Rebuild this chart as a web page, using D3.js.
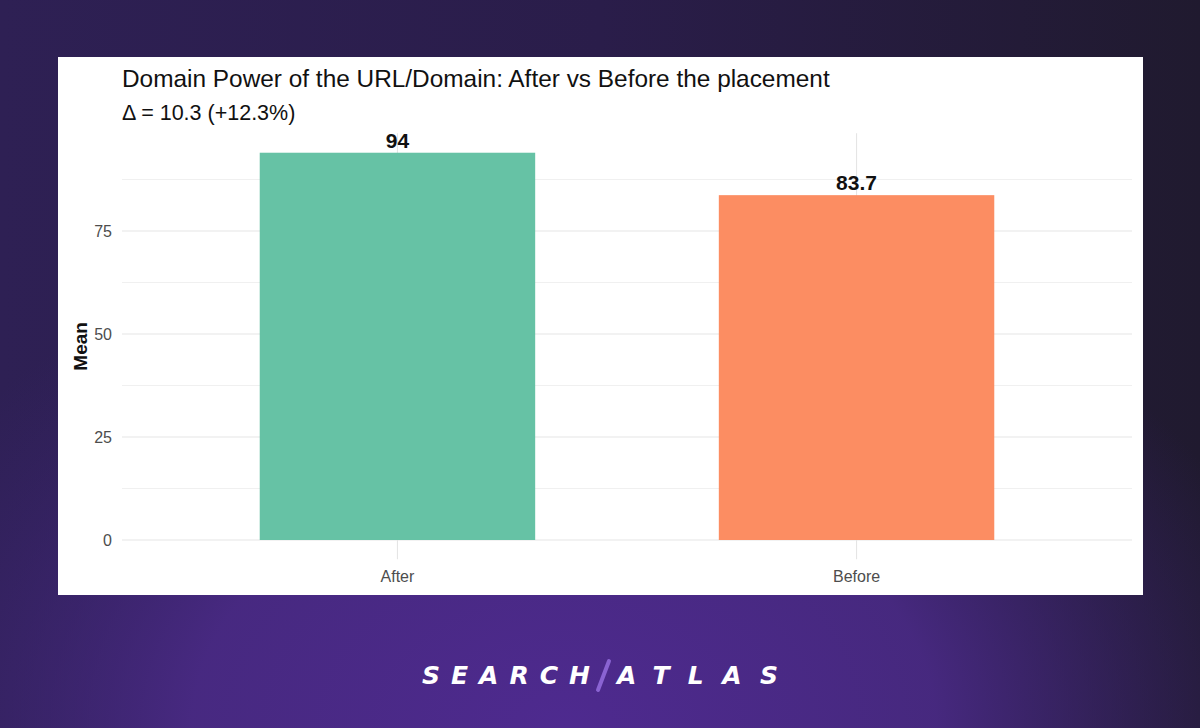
<!DOCTYPE html>
<html>
<head>
<meta charset="utf-8">
<script src="https://cdn.jsdelivr.net/npm/d3@7"></script>
<style>
  html, body { margin: 0; padding: 0; }
  body { width: 1200px; height: 728px; overflow: hidden; }
  svg { display: block; }
</style>
</head>
<body>
<svg id="chart" width="1200" height="728"></svg>
<script>
const categories = ["After", "Before"];
const means = [94, 83.7];
const valueLabels = ["94", "83.7"];
const barColors = ["#66c2a5", "#fc8d62"];
const yTicks = [0, 25, 50, 75];
const yMinor = [12.5, 37.5, 62.5, 87.5];
const titleText = "Domain Power of the URL/Domain: After vs Before the placement";
const subtitleText = "\u0394 = 10.3 (+12.3%)";
const yAxisTitle = "Mean";
const logoLeft = "SEARCH";
const logoRight = "ATLAS";

(function () {
const svg = d3.select("#chart");
const W = 1200, H = 728;
const FONT = "Liberation Sans, Arial, sans-serif";

// background
const defs = svg.append("defs");
const lg = defs.append("linearGradient").attr("id", "bgLin").attr("x1", "0").attr("y1", "0").attr("x2", "1").attr("y2", "0");
lg.append("stop").attr("offset", "0").attr("stop-color", "#2e2054");
lg.append("stop").attr("offset", "0.5").attr("stop-color", "#2a1d4a");
lg.append("stop").attr("offset", "1").attr("stop-color", "#201a2f");
svg.append("rect").attr("width", W).attr("height", H).attr("fill", "url(#bgLin)");
const rg = defs.append("radialGradient").attr("id", "bgRad")
  .attr("cx", "0.47").attr("cy", "1.0").attr("r", "0.62")
  .attr("gradientTransform", "translate(0.47,1) scale(1,1.15) translate(-0.47,-1)");
rg.append("stop").attr("offset", "0").attr("stop-color", "#4e2a8f").attr("stop-opacity", 1);
rg.append("stop").attr("offset", "0.5").attr("stop-color", "#4a2a86").attr("stop-opacity", 0.9);
rg.append("stop").attr("offset", "1").attr("stop-color", "#3a2370").attr("stop-opacity", 0);
svg.append("rect").attr("width", W).attr("height", H).attr("fill", "url(#bgRad)");

// white panel
svg.append("rect").attr("x", 58).attr("y", 57).attr("width", 1085).attr("height", 538).attr("fill", "#ffffff");

// plot area
const pL = 122, pR = 1132;
const y0px = 540, perUnit = 4.12;
const yDomain = [-0.05 * 94, 94 * 1.05];
const y = d3.scaleLinear().domain(yDomain)
  .range([y0px - yDomain[0] * perUnit, y0px - yDomain[1] * perUnit]);
const xPos = d3.scaleLinear().domain([0.4, 2.6]).range([pL, pR]);
const unit = xPos(2) - xPos(1);

const catCenter = c => xPos(categories.indexOf(c) + 1);
const pTop = y(yDomain[1]), pBottom = y(yDomain[0]);

const g = svg.append("g");
g.selectAll("line.minor").data(yMinor).join("line")
  .attr("x1", pL).attr("x2", pR).attr("y1", d => y(d)).attr("y2", d => y(d))
  .attr("stroke", "#f0f0f0").attr("stroke-width", 1);
g.selectAll("line.major").data(yTicks).join("line")
  .attr("x1", pL).attr("x2", pR).attr("y1", d => y(d)).attr("y2", d => y(d))
  .attr("stroke", "#e5e5e5").attr("stroke-width", 1.1);
g.selectAll("line.vg").data(categories).join("line")
  .attr("x1", d => catCenter(d)).attr("x2", d => catCenter(d))
  .attr("y1", pTop).attr("y2", pBottom)
  .attr("stroke", "#e5e5e5").attr("stroke-width", 1.1);

const barW = 0.6 * unit;
g.selectAll("rect.bar").data(means).join("rect")
  .attr("x", (d, i) => catCenter(categories[i]) - barW / 2)
  .attr("width", barW)
  .attr("y", d => y(d))
  .attr("height", d => y(0) - y(d))
  .attr("fill", (d, i) => barColors[i]);

g.selectAll("text.val").data(means).join("text")
  .attr("x", (d, i) => catCenter(categories[i]))
  .attr("y", d => y(d) - 5)
  .attr("text-anchor", "middle")
  .attr("font-family", FONT)
  .attr("font-weight", "bold").attr("font-size", 21).attr("fill", "#111")
  .text((d, i) => valueLabels[i]);

const yAxis = d3.axisLeft(y).tickValues(yTicks).tickSize(0).tickPadding(0);
const ya = svg.append("g").attr("transform", `translate(${pL - 10},0)`).call(yAxis);
ya.select(".domain").remove();
ya.selectAll("text").attr("font-family", FONT)
  .attr("font-size", 16).attr("fill", "#4d4d4d");

const xa = svg.append("g");
xa.selectAll("text").data(categories).join("text")
  .attr("x", d => catCenter(d)).attr("y", 582)
  .attr("text-anchor", "middle")
  .attr("font-family", FONT)
  .attr("font-size", 16).attr("fill", "#4d4d4d").text(d => d);

svg.append("text")
  .attr("transform", `translate(87,${(pTop + pBottom) / 2}) rotate(-90)`)
  .attr("text-anchor", "middle")
  .attr("font-family", FONT).attr("font-weight", "bold")
  .attr("font-size", 19).attr("fill", "#111").text(yAxisTitle);

svg.append("text").attr("x", 122).attr("y", 87)
  .attr("font-family", FONT)
  .attr("font-size", 24.4).attr("fill", "#111").text(titleText);
svg.append("text").attr("x", 122).attr("y", 120)
  .attr("font-family", FONT)
  .attr("font-size", 21.5).attr("fill", "#111").text(subtitleText);

const logo = svg.append("g");
logo.append("text").attr("x", 422).attr("y", 684)
  .attr("font-family", "DejaVu Sans, sans-serif").attr("font-weight", "bold")
  .attr("font-style", "italic").attr("font-size", 25)
  .attr("textLength", 168).attr("lengthAdjust", "spacing")
  .attr("fill", "#ffffff").text(logoLeft);
logo.append("line").attr("x1", 598).attr("y1", 690).attr("x2", 609).attr("y2", 661)
  .attr("stroke", "#8a63d2").attr("stroke-width", 4).attr("stroke-linecap", "round");
logo.append("text").attr("x", 617).attr("y", 684)
  .attr("font-family", "DejaVu Sans, sans-serif").attr("font-weight", "bold")
  .attr("font-style", "italic").attr("font-size", 25)
  .attr("textLength", 161).attr("lengthAdjust", "spacing")
  .attr("fill", "#ffffff").text(logoRight);
})();
</script>
</body>
</html>
